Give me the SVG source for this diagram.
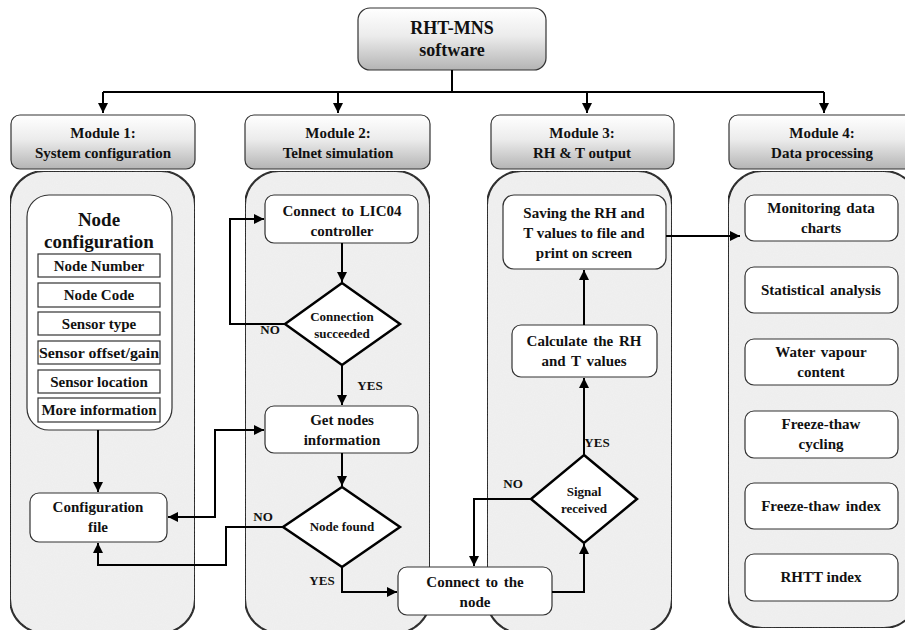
<svg xmlns="http://www.w3.org/2000/svg" width="905" height="630" viewBox="0 0 905 630">
<defs>
<linearGradient id="hdr" x1="0" y1="0" x2="0" y2="1">
<stop offset="0" stop-color="#ffffff"/>
<stop offset="0.45" stop-color="#ececec"/>
<stop offset="1" stop-color="#b4b4b4"/>
</linearGradient>
<filter id="tex" x="0" y="0" width="1" height="1">
<feTurbulence type="fractalNoise" baseFrequency="0.9" numOctaves="2" seed="3" result="n"/>
<feColorMatrix in="n" type="matrix" values="0 0 0 0 0.5  0 0 0 0 0.5  0 0 0 0 0.5  0 0 0 0.1 0" result="g"/>
<feComposite in="g" in2="SourceGraphic" operator="atop"/>
</filter>
<marker id="ah" viewBox="0 0 10 10" refX="10" refY="5" markerWidth="5" markerHeight="5" orient="auto-start-reverse" markerUnits="strokeWidth">
<path d="M0,0 L10,5 L0,10 z" fill="#000"/>
</marker>
</defs>
<style>
text{font-family:'Liberation Serif','Times New Roman',serif;font-weight:bold;fill:#111;text-anchor:middle}
.hdr{fill:url(#hdr);stroke:#333;stroke-width:1.2}
.panel{fill:#f1f1f1;stroke:#111;stroke-width:2}
.box{fill:#fff;stroke:#333;stroke-width:1.2}
.sub{fill:#fff;stroke:#333;stroke-width:1.2}
.dia{fill:#fff;stroke:#000;stroke-width:2.5}
.t14{font-size:15px}
.ws{word-spacing:2px}
.t11{font-size:13px}
.lbl{font-size:13px}
.con{fill:none;stroke:#000;stroke-width:2}
</style>
<rect width="905" height="630" fill="#fff"/>

<g id="top">
<rect class="hdr" x="358" y="8" width="188" height="62" rx="12"/>
<text x="452" y="34" style="font-size:18px">RHT-MNS</text>
<text x="452" y="56" style="font-size:18px">software</text>
</g>

<g id="panels">
<rect class="panel" x="10" y="171" width="185" height="462" rx="34" filter="url(#tex)"/>
<rect class="panel" x="245" y="171" width="185" height="462" rx="34" filter="url(#tex)"/>
<rect class="panel" x="487" y="171" width="185" height="462" rx="34" filter="url(#tex)"/>
<rect class="panel" x="728" y="171" width="190" height="457" rx="34" filter="url(#tex)"/>
</g>

<g id="module1-header">
<rect class="hdr" x="11" y="115" width="184" height="54" rx="9"/>
<text class="t14" x="103" y="138">Module 1:</text>
<text class="t14" x="103" y="158">System configuration</text>
</g>
<g id="module2-header">
<rect class="hdr" x="245" y="115" width="185" height="54" rx="9"/>
<text class="t14" x="338" y="138">Module 2:</text>
<text class="t14" x="338" y="158">Telnet simulation</text>
</g>
<g id="module3-header">
<rect class="hdr" x="491" y="115" width="183" height="54" rx="9"/>
<text class="t14" x="582" y="138">Module 3:</text>
<text class="t14" x="582" y="158">RH &amp; T output</text>
</g>
<g id="module4-header">
<rect class="hdr" x="729" y="115" width="186" height="54" rx="9"/>
<text class="t14" x="822" y="138">Module 4:</text>
<text class="t14" x="822" y="158">Data processing</text>
</g>

<g id="node-configuration">
<rect class="box" x="27" y="195" width="145" height="235" rx="22"/>
<text x="99" y="226" style="font-size:19px">Node</text>
<text x="99" y="248" style="font-size:19px">configuration</text>
<rect class="sub" x="38" y="254" width="122" height="23"/>
<text class="t14" x="99" y="271">Node Number</text>
<rect class="sub" x="38" y="283" width="122" height="24"/>
<text class="t14" x="99" y="300">Node Code</text>
<rect class="sub" x="38" y="312" width="122" height="23"/>
<text class="t14" x="99" y="329">Sensor type</text>
<rect class="sub" x="38" y="341" width="122" height="23"/>
<text class="t14" x="99" y="358" textLength="120" lengthAdjust="spacingAndGlyphs">Sensor offset/gain</text>
<rect class="sub" x="38" y="370" width="122" height="23"/>
<text class="t14" x="99" y="387">Sensor location</text>
<rect class="sub" x="38" y="398" width="122" height="24"/>
<text class="t14" x="99" y="415">More information</text>
</g>

<g id="configuration-file">
<rect class="box" x="30" y="493" width="137" height="49" rx="9"/>
<text class="t14" x="98" y="512">Configuration</text>
<text class="t14" x="98" y="532">file</text>
</g>

<g id="connect-lic04">
<rect class="box" x="265" y="195" width="153" height="48" rx="9"/>
<text class="t14 ws" x="342" y="216">Connect to LIC04</text>
<text class="t14" x="342" y="236">controller</text>
</g>

<g id="connection-succeeded">
<polygon class="dia" points="342,283 400,324 342,365 285,324"/>
<text class="t11" x="342" y="321">Connection</text>
<text class="t11" x="342" y="338">succeeded</text>
</g>

<g id="get-nodes">
<rect class="box" x="265" y="406" width="153" height="47" rx="9"/>
<text class="t14" x="342" y="425">Get nodes</text>
<text class="t14" x="342" y="445">information</text>
</g>

<g id="node-found">
<polygon class="dia" points="342,487 400,527 342,567 283,527"/>
<text class="t11" x="342" y="531">Node  found</text>
</g>

<g id="connect-node">
<rect class="box" x="398" y="567" width="154" height="48" rx="9"/>
<text class="t14 ws" x="475" y="587">Connect  to the</text>
<text class="t14" x="475" y="607">node</text>
</g>

<g id="signal-received">
<polygon class="dia" points="584,455 637,499 584,543 531,499"/>
<text class="t11" x="584" y="496">Signal</text>
<text class="t11" x="584" y="513">received</text>
</g>

<g id="calculate">
<rect class="box" x="512" y="325" width="145" height="52" rx="9"/>
<text class="t14 ws" x="584" y="346">Calculate  the RH</text>
<text class="t14 ws" x="584" y="366">and T values</text>
</g>

<g id="saving">
<rect class="box" x="503" y="195" width="163" height="74" rx="11"/>
<text class="t14" x="584" y="218">Saving the RH and</text>
<text class="t14" x="584" y="238">T values to file and</text>
<text class="t14" x="584" y="258">print  on screen</text>
</g>

<g id="monitoring">
<rect class="box" x="745" y="195" width="153" height="46" rx="9"/>
<text class="t14 ws" x="821" y="213">Monitoring  data</text>
<text class="t14" x="821" y="233">charts</text>
</g>
<g id="statistical">
<rect class="box" x="745" y="267" width="153" height="46" rx="9"/>
<text class="t14 ws" x="821" y="295">Statistical  analysis</text>
</g>
<g id="water-vapour">
<rect class="box" x="745" y="339" width="153" height="46" rx="9"/>
<text class="t14 ws" x="821" y="357">Water  vapour</text>
<text class="t14" x="821" y="377">content</text>
</g>
<g id="freeze-thaw-cycling">
<rect class="box" x="745" y="411" width="153" height="47" rx="9"/>
<text class="t14" x="821" y="429">Freeze-thaw</text>
<text class="t14" x="821" y="449">cycling</text>
</g>
<g id="freeze-thaw-index">
<rect class="box" x="745" y="483" width="153" height="46" rx="9"/>
<text class="t14 ws" x="821" y="511">Freeze-thaw  index</text>
</g>
<g id="rhtt-index">
<rect class="box" x="745" y="554" width="153" height="47" rx="9"/>
<text class="t14" x="821" y="582">RHTT index</text>
</g>

<g id="connectors">
<path class="con" d="M452,70 V92"/>
<path class="con" d="M103,92 H824"/>
<path class="con" d="M103,92 V113" marker-end="url(#ah)"/>
<path class="con" d="M338,92 V113" marker-end="url(#ah)"/>
<path class="con" d="M587,92 V113" marker-end="url(#ah)"/>
<path class="con" d="M824,92 V113" marker-end="url(#ah)"/>
<path class="con" d="M98,430 V492" marker-end="url(#ah)"/>
<path class="con" d="M342,243 V282" marker-end="url(#ah)"/>
<path class="con" d="M285,324 H230 V219 H264" marker-end="url(#ah)"/>
<path class="con" d="M342,365 V405" marker-end="url(#ah)"/>
<path class="con" d="M168,517 H215 V430 H264" marker-start="url(#ah)" marker-end="url(#ah)"/>
<path class="con" d="M342,453 V486" marker-end="url(#ah)"/>
<path class="con" d="M283,527 H226 V565 H98 V543" marker-end="url(#ah)"/>
<path class="con" d="M342,567 V592 H397" marker-end="url(#ah)"/>
<path class="con" d="M552,592 H584 V544" marker-end="url(#ah)"/>
<path class="con" d="M531,499 H474 V566" marker-end="url(#ah)"/>
<path class="con" d="M584,455 V378" marker-end="url(#ah)"/>
<path class="con" d="M584,325 V270" marker-end="url(#ah)"/>
<path class="con" d="M666,236 H740" marker-end="url(#ah)"/>
<text class="lbl" x="270" y="334">NO</text>
<text class="lbl" x="370" y="390">YES</text>
<text class="lbl" x="263" y="521">NO</text>
<text class="lbl" x="322" y="585">YES</text>
<text class="lbl" x="513" y="488">NO</text>
<text class="lbl" x="597" y="447">YES</text>
</g>
</svg>
